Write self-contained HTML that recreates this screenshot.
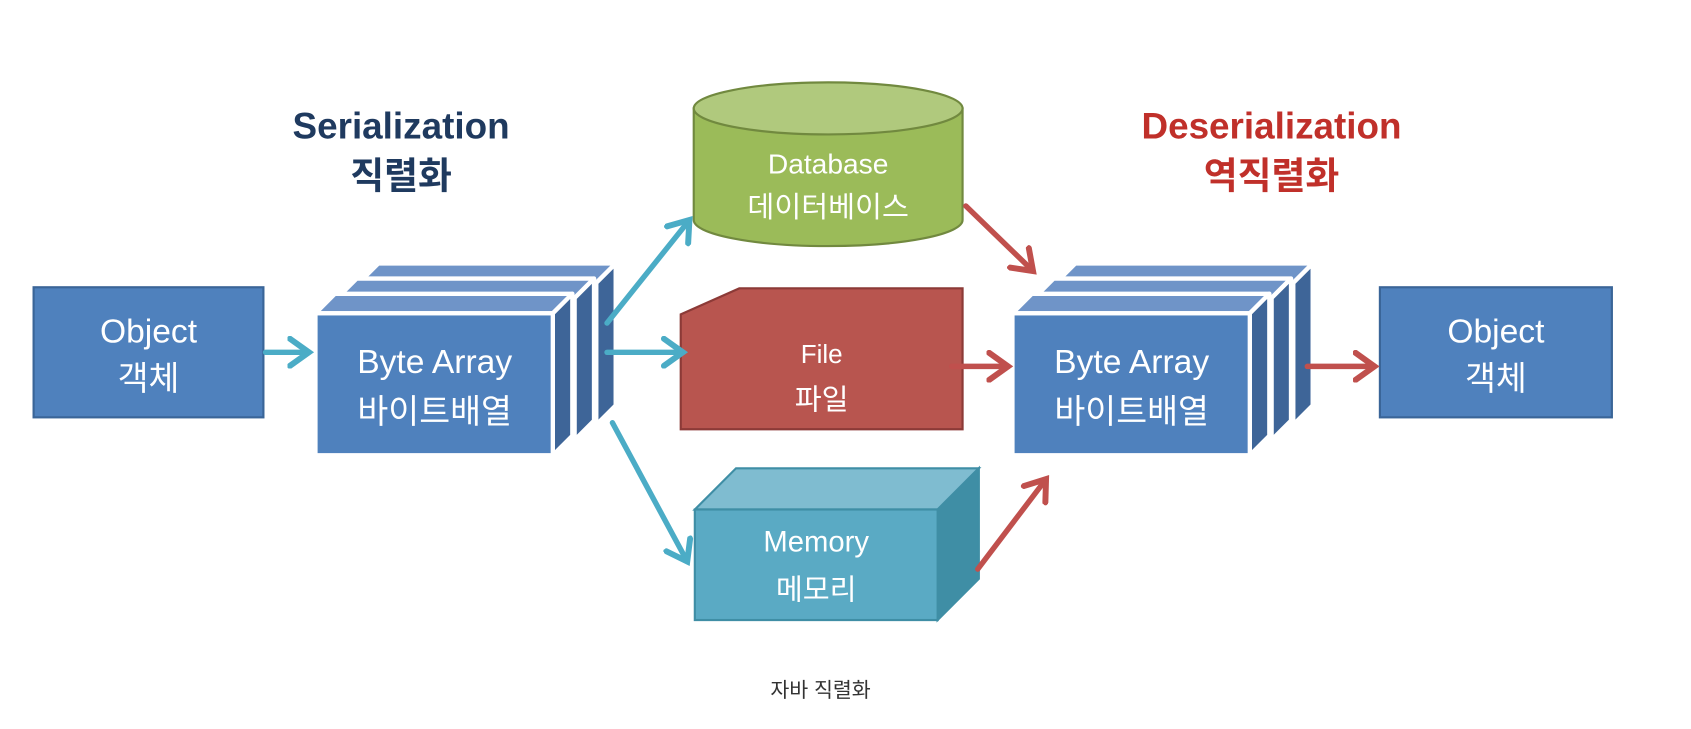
<!DOCTYPE html>
<html><head><meta charset="utf-8"><style>
html,body{margin:0;padding:0;background:#fff;}
svg{display:block}
text{font-family:"Liberation Sans","Noto Sans CJK KR","NanumGothic",sans-serif;}
</style></head><body>
<svg width="1691" height="729" viewBox="0 0 1560 672.5" xmlns="http://www.w3.org/2000/svg">
<defs>
<g id="layer">
  <polygon points="0,0 219,0 237,-18 18,-18" fill="#6f94c8" stroke="#fff" stroke-width="4" stroke-linejoin="round"/>
  <polygon points="219,0 237,-18 237,113 219,131" fill="#3e6598" stroke="#fff" stroke-width="4" stroke-linejoin="round"/>
  <rect x="0" y="0" width="219" height="131" fill="#4f81bd" stroke="#fff" stroke-width="4"/>
</g>
<g id="stack">
  <use href="#layer" x="40" y="-28"/>
  <use href="#layer" x="20" y="-14"/>
  <use href="#layer" x="0" y="0"/>
</g>
<marker id="ab" markerWidth="6" markerHeight="6" refX="4" refY="3" orient="auto" markerUnits="strokeWidth"><path d="M0.5,0.5 L4,3 L0.5,5.5" fill="none" stroke="#4bacc6" stroke-width="1.1" stroke-linecap="round"/></marker>
<marker id="ar" markerWidth="6" markerHeight="6" refX="4" refY="3" orient="auto" markerUnits="strokeWidth"><path d="M0.5,0.5 L4,3 L0.5,5.5" fill="none" stroke="#c0504d" stroke-width="1.1" stroke-linecap="round"/></marker>
</defs>

<text x="370" y="128" font-size="34" font-weight="bold" fill="#1f3a5f" text-anchor="middle">Serialization</text>
<text x="370" y="174" font-size="34" font-weight="bold" fill="#1f3a5f" text-anchor="middle">직렬화</text>
<text x="1173" y="128" font-size="34" font-weight="bold" fill="#c0302a" text-anchor="middle">Deserialization</text>
<text x="1173" y="174" font-size="34" font-weight="bold" fill="#c0302a" text-anchor="middle">역직렬화</text>

<!-- Objects -->
<rect x="31" y="265" width="212" height="120" fill="#4f81bd" stroke="#3a6598" stroke-width="2"/>
<text x="137" y="316" font-size="31" fill="#fff" text-anchor="middle">Object</text>
<text x="137" y="360" font-size="31" fill="#fff" text-anchor="middle">객체</text>
<rect x="1273" y="265" width="214" height="120" fill="#4f81bd" stroke="#3a6598" stroke-width="2"/>
<text x="1380" y="316" font-size="31" fill="#fff" text-anchor="middle">Object</text>
<text x="1380" y="360" font-size="31" fill="#fff" text-anchor="middle">객체</text>

<!-- Stacks -->
<use href="#stack" x="291" y="289"/>
<text x="401" y="344" font-size="31" fill="#fff" text-anchor="middle">Byte Array</text>
<text x="401" y="390" font-size="31" fill="#fff" text-anchor="middle">바이트배열</text>
<use href="#stack" x="934" y="289"/>
<text x="1044" y="344" font-size="31" fill="#fff" text-anchor="middle">Byte Array</text>
<text x="1044" y="390" font-size="31" fill="#fff" text-anchor="middle">바이트배열</text>

<!-- Database -->
<path d="M640,100 L640,203 A124,24 0 0 0 888,203 L888,100 Z" fill="#9bbb59" stroke="#71893f" stroke-width="2"/>
<ellipse cx="764" cy="100" rx="124" ry="24" fill="#b0c97d" stroke="#71893f" stroke-width="2"/>
<text x="764" y="160" font-size="26" fill="#fff" text-anchor="middle">Database</text>
<text x="764" y="200" font-size="27" fill="#fff" text-anchor="middle">데이터베이스</text>

<!-- File -->
<polygon points="628,290 682,266 888,266 888,396 628,396" fill="#b8554f" stroke="#8c3a37" stroke-width="2"/>
<text x="758" y="335" font-size="24" fill="#fff" text-anchor="middle">File</text>
<text x="758" y="378" font-size="27" fill="#fff" text-anchor="middle">파일</text>

<!-- Memory -->
<polygon points="641,470 679,432 903,432 865,470" fill="#7fbcd0" stroke="#3f8ea5" stroke-width="2"/>
<polygon points="865,470 903,432 903,534 865,572" fill="#3f8ea5" stroke="#3f8ea5" stroke-width="2"/>
<rect x="641" y="470" width="224" height="102" fill="#5aaac4" stroke="#3f8ea5" stroke-width="2"/>
<text x="753" y="509" font-size="27" fill="#fff" text-anchor="middle">Memory</text>
<text x="753" y="553" font-size="27" fill="#fff" text-anchor="middle">메모리</text>

<!-- Arrows -->
<g stroke-width="5" fill="none" stroke-linecap="round">
<line x1="245" y1="325" x2="285" y2="325" stroke="#4bacc6" marker-end="url(#ab)"/>
<line x1="560" y1="298" x2="636" y2="203" stroke="#4bacc6" marker-end="url(#ab)"/>
<line x1="560" y1="325" x2="630" y2="325" stroke="#4bacc6" marker-end="url(#ab)"/>
<line x1="565" y1="390" x2="634" y2="518" stroke="#4bacc6" marker-end="url(#ab)"/>
<line x1="891" y1="190" x2="953" y2="250" stroke="#c0504d" marker-end="url(#ar)"/>
<line x1="878" y1="338" x2="930" y2="338" stroke="#c0504d" marker-end="url(#ar)"/>
<line x1="902" y1="525" x2="965" y2="442" stroke="#c0504d" marker-end="url(#ar)"/>
<line x1="1206" y1="338" x2="1268" y2="338" stroke="#c0504d" marker-end="url(#ar)"/>
</g>

<text x="757" y="643" font-size="19" fill="#333" text-anchor="middle">자바 직렬화</text>
</svg>
</body></html>
